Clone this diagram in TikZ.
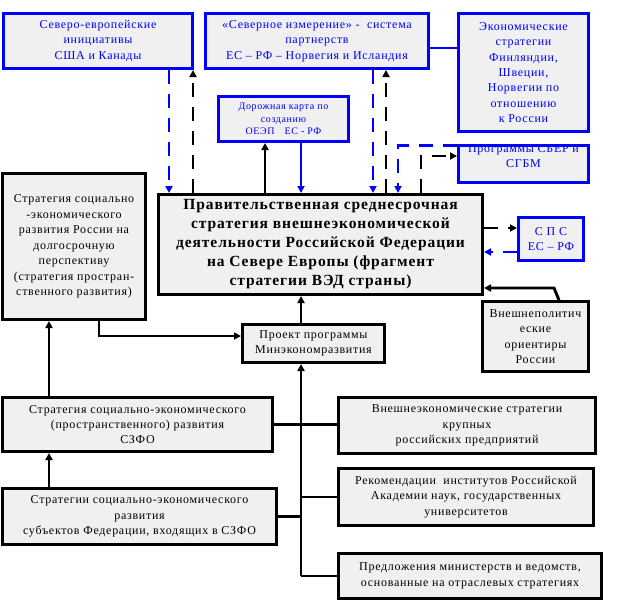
\documentclass[tikz,border=0pt]{standalone}
\usepackage{fontspec}
\setmainfont{Liberation Serif}[LetterSpace=6]
\usetikzlibrary{arrows.meta}
\definecolor{boxgray}{RGB}{240,240,240}
\tikzset{
  sz/.style 2 args={minimum width=#1pt, minimum height=#2pt},
  box/.style={draw, fill=boxgray, line width=3pt, align=center, inner sep=0pt,
    font=\fontsize{12}{15.4}\selectfont},
  bluebox/.style={box, draw=blue, text=blue},
  link/.style={line width=2.9pt},
  flow/.style={link, -{Triangle[length=7pt,width=7pt]}},
  dashflow/.style={flow, dash pattern=on 14pt off 10pt},
}

\begin{document}
\begin{tikzpicture}[x=1pt,y=-1pt]
		%%%%% START %%%%%
		\useasboundingbox (0,0) rectangle (626,613);
		
		\node[bluebox, sz={189}{55}] (sevinit) at (98,41) {Северо-европейские\\инициативы\\США и Канады};
		\node[bluebox, sz={223}{55}] (sevdim) at (317,41) {«Северное измерение» - \ система\\партнерств\\ЕС – РФ – Норвегия и Исландия};
		\node[bluebox, sz={130}{118}] (ekonstr) at (523.5,72.5) {Экономические\\стратегии\\Финляндии,\\Швеции,\\Норвегии по\\отношению\\к России};
		\node[bluebox, sz={130}{45}, font=\fontsize{10}{12.5}\selectfont] (roadmap) at (283.5,119) {Дорожная карта по\\созданию\\ОЕЭП\quad ЕС - РФ};
		\node[bluebox, sz={130}{37}, label={[text=blue, align=center, font=\fontsize{12}{15.4}\selectfont, yshift=8pt]center:Программы СБЕР и\\СГБМ}] (sber) at (523.5,164) {};
		\draw[blue, line width=3pt] ([yshift=-1.5pt]sber.north west) -- ([yshift=-1.5pt]sber.north east);
		
		\node[box, sz={324}{100}, font=\bfseries\fontsize{15.5}{19}\selectfont] (vedstr) at (320.5,244.5) {Правительственная среднесрочная\\стратегия внешнеэкономической\\деятельности Российской Федерации\\на Севере Европы (фрагмент\\стратегии ВЭД страны)};
		\node[box, sz={143}{146}] (longterm) at (74,246.5) {Стратегия социально\\-экономического\\развития России на\\долгосрочную\\перспективу\\(стратегия простран-\\ственного развития)};
		\node[bluebox, sz={65}{43}] (sps) at (551,239) {С П С\\ЕС – РФ};
		\node[box, sz={106}{70}] (foreign) at (535.5,336.5) {Внешнеполитич\\еские\\ориентиры\\России};
		\node[box, sz={142}{38}] (project) at (313.5,343.5) {Проект программы\\Минэкономразвития};
		
		\node[box, sz={270}{54}] (szfo) at (137.5,424.5) {Стратегия социально-экономического\\(пространственного) развития\\СЗФО};
		\node[box, sz={274}{56}] (subjects) at (139.5,516.5) {Стратегии социально-экономического\\развития\\субъектов Федерации, входящих в СЗФО};
		\node[box, sz={257}{56}] (firms) at (467,425.5) {Внешнеэкономические стратегии\\крупных\\российских предприятий};
		\node[box, sz={255}{57}] (academy) at (466,497) {Рекомендации \ институтов Российской\\Академии наук, государственных\\университетов};
		\node[box, sz={263}{45}] (ministries) at (470,576) {Предложения министерств и ведомств,\\основанные на отраслевых стратегиях};
		
		% columns of the links above the main box
		\coordinate (xa) at (169,0);
		\coordinate (xb) at (193,0);
		\coordinate (xc) at (265,0);
		\coordinate (xd) at (301,0);
		\coordinate (xe) at (373,0);
		\coordinate (xf) at (386,0);
		\coordinate (xg) at (398,0);
		\coordinate (xh) at (421,0);
		\coordinate (xl) at (49,0);
		
		\draw[dashflow, blue] (sevinit.south -| xa) -- (vedstr.north -| xa);
		\draw[dashflow] (vedstr.north -| xb) -- (sevinit.south -| xb);
		\draw[flow] (vedstr.north -| xc) -- (roadmap.south -| xc);
		\draw[flow, blue] (roadmap.south -| xd) -- (vedstr.north -| xd);
		\draw[dashflow, blue] (sevdim.south -| xe) -- (vedstr.north -| xe);
		\draw[dashflow] (vedstr.north -| xf) -- (sevdim.south -| xf);
		\draw[dashflow, blue] ([yshift=-1.5pt]sber.north west) -| (vedstr.north -| xg);
		\draw[dashflow] (vedstr.north -| xh) |- ([yshift=8pt]sber.west);
		\draw[link, blue] ([yshift=-7pt]sevdim.east) -- ([yshift=-7pt]sevdim.east -| ekonstr.west);
		
		% right side
		\draw[dashflow] ([yshift=16.5pt]vedstr.east) -- ([yshift=16.5pt]vedstr.east -| sps.west);
		\draw[dashflow, blue] ([yshift=-7.5pt]vedstr.east -| sps.west) -- ([yshift=-7.5pt]vedstr.east);
		\draw[flow] ([xshift=23.5pt]foreign.north) -- ++(-5,-12) coordinate (fk) -- (fk -| vedstr.east);
		
		% left side and bottom
		\draw[flow] ([xshift=25pt]longterm.south) |- ([yshift=7.5pt]project.west);
		\draw[flow] (szfo.north -| xl) -- (longterm.south -| xl);
		\draw[flow] (subjects.north -| xl) -- (szfo.south -| xl);
		\draw[flow] (project.north -| xd) -- (vedstr.south -| xd);
		\draw[flow] (ministries.west -| xd) -- (project.south -| xd);
		\draw[link] (ministries.west -| xd) -- (ministries.west);
		\draw[link] (szfo.east) -- (szfo.east -| firms.west);
		\draw[link] (subjects.east) -- (subjects.east -| xd);
		\draw[link] (academy.west -| xd) -- (academy.west);
		
		%%%%% END %%%%%
\end{tikzpicture}
\end{document}
